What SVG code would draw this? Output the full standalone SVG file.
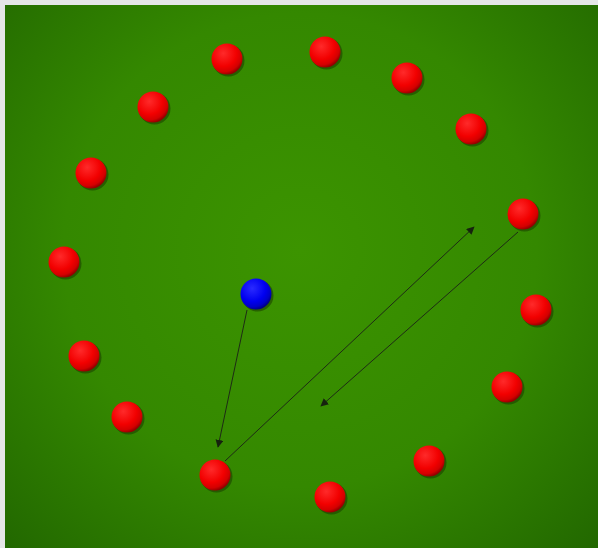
<svg xmlns="http://www.w3.org/2000/svg" width="598" height="548" viewBox="0 0 598 548">
<defs>
<radialGradient id="bg" cx="300" cy="250" r="430" gradientUnits="userSpaceOnUse">
<stop offset="0" stop-color="#3c9400"/>
<stop offset="0.55" stop-color="#348800"/>
<stop offset="1" stop-color="#216600"/>
</radialGradient>
<radialGradient id="red" cx="0.38" cy="0.32" r="0.7">
<stop offset="0" stop-color="#ff2a2a"/>
<stop offset="0.6" stop-color="#f20000"/>
<stop offset="0.85" stop-color="#d40000"/>
<stop offset="1" stop-color="#900000"/>
</radialGradient>
<radialGradient id="blue" cx="0.38" cy="0.32" r="0.7">
<stop offset="0" stop-color="#2a2aff"/>
<stop offset="0.6" stop-color="#0000f0"/>
<stop offset="0.85" stop-color="#0000c8"/>
<stop offset="1" stop-color="#000080"/>
</radialGradient>
<marker id="ah" viewBox="0 0 10 10" refX="9" refY="5" markerWidth="8" markerHeight="8" markerUnits="userSpaceOnUse" orient="auto">
<path d="M0,0 L10,5 L0,10 z" fill="#111"/>
</marker>
<style>
.sh{fill:#1a3a00;opacity:0.55}
.r{fill:url(#red)}
.b{fill:url(#blue)}
.c{stroke:#1a1a1a;stroke-width:1;fill:none;marker-end:url(#ah);opacity:0.85}
</style>
</defs>
<rect width="598" height="548" fill="#e5e6e8"/>
<rect x="5" y="5" width="593" height="543" fill="url(#bg)"/>
<g id="connectors">
<line class="c" x1="247" y1="310" x2="218" y2="447"/>
<line class="c" x1="225" y1="461" x2="474" y2="227"/>
<line class="c" x1="518" y1="232" x2="321" y2="406"/>
</g>
<g id="p1"><circle class="sh" cx="228.5" cy="60.5" r="16"/><circle class="r" cx="227" cy="59" r="15.5"/></g>
<g id="p2"><circle class="sh" cx="326.5" cy="53.5" r="16"/><circle class="r" cx="325" cy="52" r="15.5"/></g>
<g id="p3"><circle class="sh" cx="408.5" cy="79.5" r="16"/><circle class="r" cx="407" cy="78" r="15.5"/></g>
<g id="p4"><circle class="sh" cx="472.5" cy="130.5" r="16"/><circle class="r" cx="471" cy="129" r="15.5"/></g>
<g id="p5"><circle class="sh" cx="524.5" cy="215.5" r="16"/><circle class="r" cx="523" cy="214" r="15.5"/></g>
<g id="p6"><circle class="sh" cx="537.5" cy="311.5" r="16"/><circle class="r" cx="536" cy="310" r="15.5"/></g>
<g id="p7"><circle class="sh" cx="508.5" cy="388.5" r="16"/><circle class="r" cx="507" cy="387" r="15.5"/></g>
<g id="p8"><circle class="sh" cx="430.5" cy="462.5" r="16"/><circle class="r" cx="429" cy="461" r="15.5"/></g>
<g id="p9"><circle class="sh" cx="331.5" cy="498.5" r="16"/><circle class="r" cx="330" cy="497" r="15.5"/></g>
<g id="p10"><circle class="sh" cx="216.5" cy="476.5" r="16"/><circle class="r" cx="215" cy="475" r="15.5"/></g>
<g id="p11"><circle class="sh" cx="128.5" cy="418.5" r="16"/><circle class="r" cx="127" cy="417" r="15.5"/></g>
<g id="p12"><circle class="sh" cx="85.5" cy="357.5" r="16"/><circle class="r" cx="84" cy="356" r="15.5"/></g>
<g id="p13"><circle class="sh" cx="65.5" cy="263.5" r="16"/><circle class="r" cx="64" cy="262" r="15.5"/></g>
<g id="p14"><circle class="sh" cx="92.5" cy="174.5" r="16"/><circle class="r" cx="91" cy="173" r="15.5"/></g>
<g id="p15"><circle class="sh" cx="154.5" cy="108.5" r="16"/><circle class="r" cx="153" cy="107" r="15.5"/></g>
<g id="blue-player"><circle class="sh" cx="257.5" cy="295.5" r="16"/><circle class="b" cx="256" cy="294" r="15.5"/></g>
</svg>
